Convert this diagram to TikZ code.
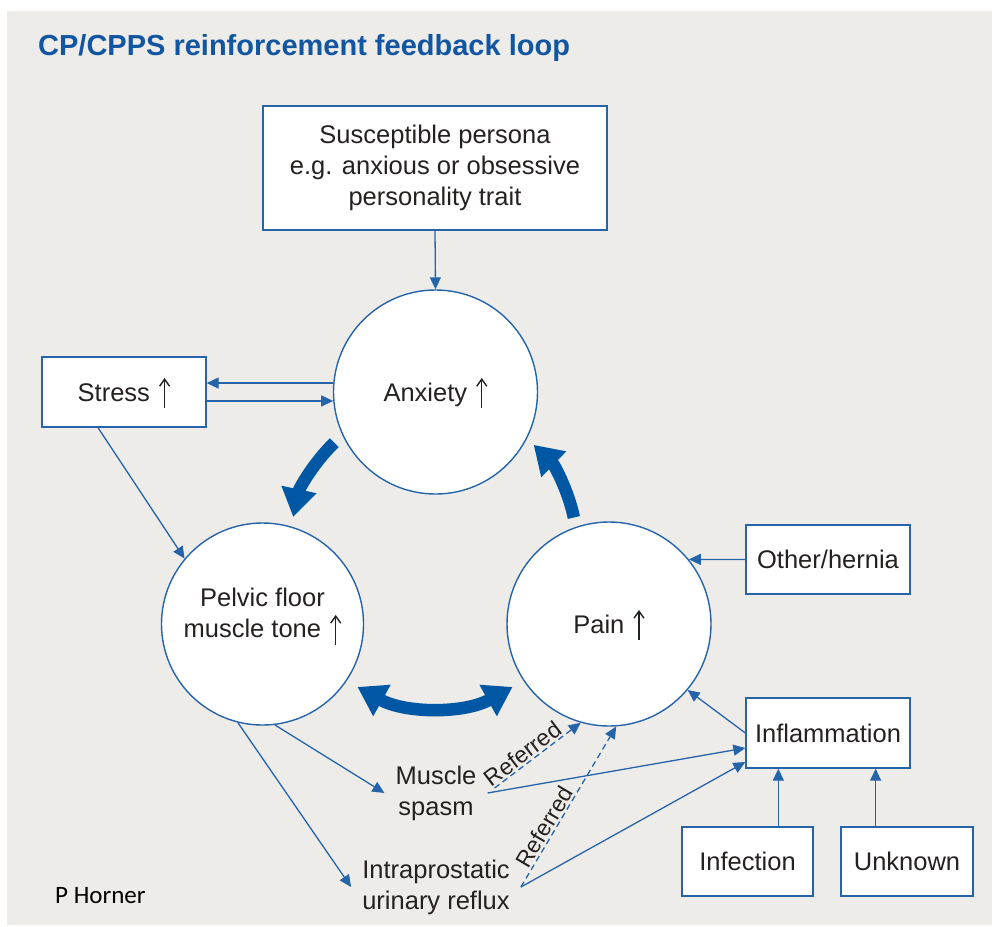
\documentclass[tikz,border=0pt]{standalone}
\usepackage{fontspec}
\setmainfont{Liberation Sans}
\newfontfamily\hornerfont{Carlito}
\usetikzlibrary{arrows.meta,calc}
\definecolor{bg}{RGB}{238,236,232}
\definecolor{lblue}{RGB}{38,100,170}
\definecolor{tblue}{RGB}{0,87,164}
\definecolor{ttl}{RGB}{18,86,162}
\definecolor{ink}{RGB}{38,32,32}
\newcommand{\ndfont}{\fontsize{25.5}{31}\selectfont}
\newcommand{\reffont}{\fontsize{23}{26}\selectfont}
\newcommand{\uparr}{\hspace{0.35em}\tikz[baseline=0pt,x=1pt,y=1pt]{\draw[ink,line width=1.4pt,-{Straight Barb[length=7pt,width=10pt,line width=1.4pt]}] (0,-7) -- (0,23);}}
\begin{document}
\begin{tikzpicture}[x=1pt,y=-1pt,
  box/.style={draw=lblue,line width=1.3pt,fill=white,text=ink,font=\ndfont,inner sep=0pt},
  circ/.style={circle,draw=lblue,line width=1.4pt,fill=white,text=ink,font=\ndfont,inner sep=0pt},
  oneline/.style={text height=18pt,text depth=0pt},
  txt/.style={text=ink,font=\ndfont,align=center,inner sep=11pt},
  arr/.style={draw=lblue,line width=1.3pt,-{Triangle[length=12pt,width=11pt]}},
  darr/.style={arr,dash pattern=on 6pt off 4pt},
  big/.style={draw=tblue,line width=12.5pt,-{Triangle[length=28pt,width=34pt]}},
  lab/.style={text=ink,font=\reffont,inner sep=1.5pt}]
\useasboundingbox (0,0) rectangle (992,926);
\fill[bg] (7,11) rectangle (992,925);

\node[anchor=base west,inner sep=0pt,text=ttl,font=\fontsize{29}{34}\selectfont\bfseries] (title) at (38,55) {CP/CPPS reinforcement feedback loop};

\node[box,minimum width=344pt,minimum height=124pt,align=center] (persona) at (435,168) {Susceptible persona\\e.g. anxious or obsessive\\personality trait};
\node[circ,oneline,minimum size=204pt] (anx) at (435.5,392) {Anxiety\uparr};
\node[circ,minimum size=202pt] (pelvic) at (262.5,624) {};
\node[txt] (pelvict) at (262.5,617) {Pelvic floor\\muscle tone\uparr};
\node[circ,oneline,minimum size=204pt] (pain) at (609,624) {Pain\uparr};
\node[box,oneline,minimum width=164pt,minimum height=70pt] (stress) at (124,392) {Stress\uparr};
\node[box,oneline,minimum width=164pt,minimum height=69pt] (other) at (828,559.5) {Other/hernia};
\node[box,oneline,minimum width=164pt,minimum height=70pt] (inflam) at (828,733) {Inflammation};
\node[box,oneline,minimum width=131pt,minimum height=69pt] (infection) at (747.5,861.5) {Infection};
\node[box,oneline,minimum width=132pt,minimum height=69pt] (unknown) at (907,861.5) {Unknown};
\node[txt] (spasm) at (436,793) {Muscle\\spasm};
\node[txt] (reflux) at (436,887) {Intraprostatic\\urinary reflux};
\node[anchor=base west,inner sep=0pt,font=\hornerfont\fontsize{25}{30}\selectfont,text=black] (horner) at (55,903) {P Horner};

\draw[arr] (persona.south) -- (anx.north);
\draw[arr] (anx.175) -- (anx.175 -| stress.east);
\draw[arr] (anx.185 -| stress.east) -- (anx.185);
\draw[arr] ([xshift=-26pt]stress.south) -- (pelvic.140);
\draw[arr] (pelvic.-83) -- (spasm.west);
\draw[arr] (pelvic.-104) -- (reflux.west);
\draw[arr] (spasm.east) -- ([yshift=-15pt]inflam.west);
\draw[arr] (reflux.east) -- ([yshift=-29pt]inflam.west);
\draw[darr] ([shift={(7,-5)}]spasm.east) -- node[lab,sloped,above,pos=0.4] (ref1) {Referred} (pain.-106);
\draw[darr] (reflux.east) -- node[lab,sloped,above,pos=0.34] (ref2) {Referred} (pain.-86);
\draw[arr] (inflam.west) -- (pain.-40);
\draw[arr] (other.west) -- (pain.39);
\draw[arr] ([xshift=33pt]inflam.south west |- infection.north) -- ([xshift=33pt]inflam.south west);
\draw[arr] ([xshift=-35pt]inflam.south east |- unknown.north) -- ([xshift=-35pt]inflam.south east);

\coordinate (C) at (435,547);
\draw[big] ($(C)+(226:145)$) arc[start angle=226,end angle=192,radius=145];
\draw[big] ($(C)+(348:142)$) arc[start angle=348,end angle=314,radius=142];
\draw[big,{Triangle[length=28pt,width=34pt]}-{Triangle[length=28pt,width=34pt]}] ($(C)+(119:160)$) arc[start angle=119,end angle=61,radius=160];
\end{tikzpicture}
\end{document}
